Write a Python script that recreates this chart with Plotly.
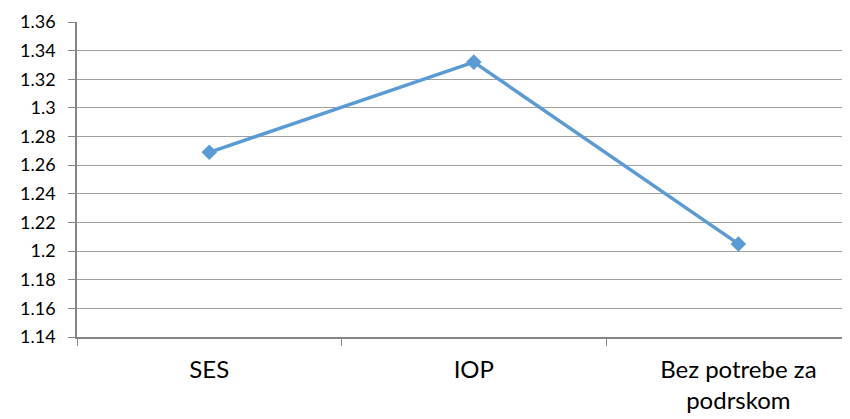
import plotly.graph_objects as go

categories = ["SES", "IOP", "Bez potrebe za<br>podrskom"]
values = [1.269, 1.332, 1.205]
y_ticks = [1.14, 1.16, 1.18, 1.2, 1.22, 1.24, 1.26, 1.28, 1.3, 1.32, 1.34, 1.36]
y_tick_labels = ["1.14", "1.16", "1.18", "1.2", "1.22", "1.24", "1.26", "1.28", "1.3", "1.32", "1.34", "1.36"]

xpos = list(range(len(categories)))

fig = go.Figure()
fig.add_trace(go.Scatter(
    x=xpos, y=values, mode="lines+markers",
    line=dict(color="#5B9BD5", width=3.5),
    marker=dict(symbol="diamond", size=12, color="#5B9BD5"),
    showlegend=False,
))

fig.update_layout(
    width=842, height=411,
    margin=dict(l=69, r=0, t=14, b=82),
    paper_bgcolor="white", plot_bgcolor="white",
    font=dict(family="Lato", color="#000000"),
)
fig.update_xaxes(
    automargin=False,
    range=[-0.5, 2.422],
    tickmode="array", tickvals=xpos, ticktext=categories,
    tickfont=dict(size=24, family="Lato"),
    ticks="outside", ticklen=0,
    showgrid=False, zeroline=False,
    showline=True, linecolor="#868686", linewidth=1.5,
    ticklabelstandoff=10,
    minor=dict(tickmode="array", tickvals=[-0.5, 0.5, 1.5], ticks="outside",
               ticklen=7, tickcolor="#868686", tickwidth=1, showgrid=False),
)
fig.update_yaxes(
    automargin=False,
    range=[1.14, 1.36],
    tickmode="array", tickvals=y_ticks, ticktext=y_tick_labels,
    tickfont=dict(size=18, family="Lato"),
    ticks="outside", ticklen=7, tickcolor="#868686", tickwidth=1,
    showgrid=True, gridcolor="#A0A0A0", gridwidth=1,
    zeroline=False,
    showline=True, linecolor="#868686", linewidth=1.5,
    ticklabelstandoff=9,
)

fig.write_html("out.html")
